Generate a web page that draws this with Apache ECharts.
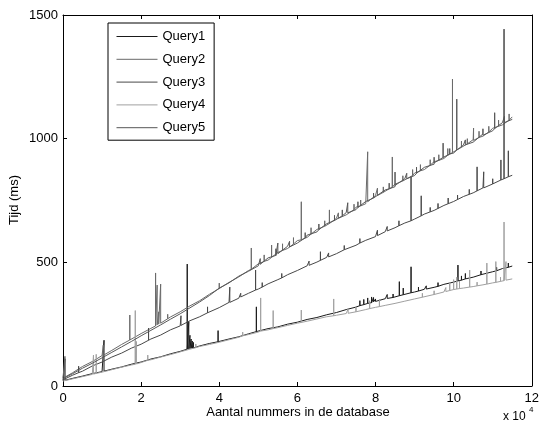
<!DOCTYPE html>
<html><head><meta charset="utf-8">
<script src="https://cdn.jsdelivr.net/npm/echarts@6/dist/echarts.min.js"></script>
<style>html,body{margin:0;padding:0;background:#fff}#c{width:542px;height:425px}</style>
</head><body><div id="c"></div>
<script>
// x values in units of 10^4 records
const xs = [0,0.25,0.5,0.75,1,1.25,1.5,1.75,2,2.25,2.5,2.75,3,3.25,3.5,3.75,4,4.25,4.5,4.75,5,5.25,5.5,5.75,6,6.25,6.5,6.75,7,7.25,7.5,7.75,8,8.25,8.5,8.75,9,9.25,9.5,9.75,10,10.25,10.5,10.75,11,11.25,11.5];
const seriesNames = ['Query1','Query2','Query3','Query4','Query5'];
const xTicks = [0,2,4,6,8,10,12];
const yTicks = [0,500,1000,1500];

const q1Base = [22,31,40,50,58,68,77,88,97,109,118,130,140,152,162,172,180,190,199,211,222,232,239,250,258,269,277,288,297,309,319,332,342,353,360,372,380,391,399,411,420,432,440,453,462,475,485];
const q2Base = [33,54,79,99,123,144,168,188,212,233,254,279,300,324,345,371,394,419,441,467,494,509,540,556,588,601,633,646,678,692,723,737,770,784,816,829,861,875,907,920,952,965,996,1010,1042,1056,1088];
const q3Base = [25,44,60,81,97,117,133,153,169,190,206,227,243,264,280,301,317,338,355,375,392,413,430,450,467,486,501,520,535,554,569,589,604,624,640,659,675,695,710,730,746,766,781,801,817,836,852];
const q4Base = [20,29,38,47,56,66,76,85,95,106,117,127,138,149,160,168,177,187,197,208,218,227,236,245,254,262,271,280,286,293,300,309,318,326,334,343,352,361,370,380,390,396,402,409,417,425,433];
const q5Base = [30,50,72,92,114,136,158,180,203,225,247,270,292,316,340,366,396,417,444,464,486,518,531,565,578,610,623,656,668,701,713,746,760,793,806,838,851,884,897,929,942,974,986,1019,1032,1065,1078];

// spikes: [x, foot, peak]
const q1Spikes = [[0.05,23,110],[1.05,60,185],[3.18,149,493],[3.22,150,260],[3.25,151,205],[3.28,152,190],[3.31,153,182],[3.34,154,176],[3.97,179,224],[4.95,220,320],
  [7.6,325,345],[7.7,329,350],[7.8,334,356],[7.9,337,360],[7.95,340,358],[8.0,342,352],[8.3,354,370],[8.45,358,372],[8.61,365,422],[8.71,369,396],[8.91,377,482],
  [9.1,384,400],[9.3,392,405],[9.6,403,418],[10.11,425,489],[10.2,428,445],[10.3,433,455],[10.7,450,465],[11.1,466,480],[11.4,480,497]];
const q2Spikes = [[0.05,36,120],[1.03,124,165],[1.71,186,287],[2.37,243,457],[2.41,247,408],[2.45,250,300],[2.5,254,412],[2.68,272,290],[4.0,394,416],[4.82,472,558],
  [5.15,504,530],[5.34,520,570],[5.62,548,575],[5.9,574,600],[6.1,591,745],[6.35,614,640],[6.7,646,668],[6.82,657,712],[7.05,678,700],[7.45,713,735],[7.62,728,752],
  [7.8,745,947],[8.05,770,800],[8.2,783,805],[8.43,805,926],[8.7,829,850],[8.95,851,875],[9.15,870,895],[9.4,893,915],[9.62,912,935],[9.85,933,960],[9.97,944,1241],
  [10.2,965,990],[10.35,979,1000],[10.51,993,1043],[10.65,1005,1030],[10.9,1027,1050],[11.15,1050,1075],[11.42,1075,1100]];
const q3Spikes = [[0.4,54,80],[2.19,185,234],[3.02,245,284],[3.7,296,320],[4.27,338,400],[4.55,360,375],[4.93,388,469],[5.1,400,418],[5.6,437,455],[6.3,488,505],
  [6.59,508,543],[6.8,522,538],[7.2,551,568],[7.6,578,596],[8.05,608,630],[8.3,627,645],[8.6,648,668],[8.91,668,846],[9.17,688,769],[9.4,704,722],[9.6,718,738],
  [9.86,737,760],[10.1,754,772],[10.4,775,795],[10.6,789,886],[10.77,801,866],[11.0,817,838],[11.21,833,914],[11.29,838,1443],[11.4,846,951]];
const q4Spikes = [[0.78,48,125],[0.85,51,128],[1.85,88,305],[1.88,89,180],[2.17,104,125],[3.4,155,170],[4.6,203,218],[5.06,222,356],[5.38,232,305],[6.1,257,307],
  [6.93,284,352],[7.3,294,312],[7.5,300,318],[7.85,313,345],[8.1,321,350],[9.2,359,375],[9.5,370,385],[9.8,382,398],[9.9,386,420],[10.0,390,430],[10.08,392,440],
  [10.15,394,425],[10.41,400,469],[10.6,405,420],[10.85,412,497],[11.08,419,503],[11.2,423,440],[11.29,426,663],[11.34,428,503]];
const q5Spikes = [[5.05,492,515],[5.45,528,555],[5.5,535,578],[5.8,562,585],[6.2,599,620],[6.55,632,655],[6.95,669,690],[7.15,688,712],[7.29,700,741],[7.55,722,745],
  [7.95,760,780],[8.35,797,820],[8.5,811,865],[8.8,838,860],[9.05,860,885],[9.5,902,925],[9.73,924,982],[9.9,938,960],[10.08,954,1160],[10.3,975,995],[10.75,1014,1040],
  [11.05,1041,1105],[11.3,1065,1090]];

const colors = ['#1a1a1a','#6a6a6a','#484848','#a0a0a0','#575757'];

function build(base, spikes){
  const pts = xs.map((x,i)=>[x, base[i]]);
  spikes.forEach(s=>{ pts.push([s[0],s[1]],[s[0],s[2]],[s[0],s[1]]); });
  return pts.map((p,i)=>[p[0],p[1],i]).sort((a,b)=>a[0]-b[0]||a[2]-b[2]).map(p=>[p[0],p[1]]);
}
const allData = [build(q1Base,q1Spikes),build(q2Base,q2Spikes),build(q3Base,q3Spikes),build(q4Base,q4Spikes),build(q5Base,q5Spikes)];

const FONT = 'Liberation Sans';
const chart = echarts.init(document.getElementById('c'), null, {renderer:'canvas'});
const axisCommon = {
  axisLine:{show:true,onZero:false,lineStyle:{color:'#000',width:1}},
  axisTick:{show:true,inside:true,length:4,lineStyle:{color:'#000'}},
  splitLine:{show:false}
};
chart.setOption({
  animation:false,
  backgroundColor:'#fff',
  grid:{left:63,right:8,top:15,bottom:39,containLabel:false},
  legend:{
    show:true, orient:'vertical', left:108, top:23,
    data:seriesNames,
    itemWidth:41, itemHeight:13, itemGap:9.8,
    padding:[7,9,6,8],
    borderColor:'#000', borderWidth:1, backgroundColor:'#fff',
    itemStyle:{color:'rgba(0,0,0,0)',borderColor:'rgba(0,0,0,0)',borderWidth:0},
    lineStyle:{width:1},
    textStyle:{fontFamily:FONT,fontSize:13,color:'#000'}
  },
  xAxis:[
    Object.assign({type:'value',min:0,max:12,interval:2,position:'bottom',
      axisLabel:{show:true,fontFamily:FONT,fontSize:13,color:'#000',margin:6,
        formatter:v=>xTicks.includes(v)?String(v):''}},axisCommon),
    Object.assign({type:'value',min:0,max:12,interval:2,position:'top',
      axisLabel:{show:false}},axisCommon)
  ],
  yAxis:[
    Object.assign({type:'value',min:0,max:1500,interval:500,position:'left',
      axisLabel:{show:true,fontFamily:FONT,fontSize:13,color:'#000',margin:5,
        formatter:v=>yTicks.includes(v)?String(v):''}},axisCommon),
    Object.assign({type:'value',min:0,max:1500,interval:500,position:'right',
      axisLabel:{show:false}},axisCommon)
  ],
  series: seriesNames.map((n,i)=>({
    name:n, type:'line', data:allData[i], symbol:'none', showSymbol:false,
    xAxisIndex:0, yAxisIndex:0,
    lineStyle:{color:colors[i],width:1}, itemStyle:{color:colors[i]},
    emphasis:{disabled:true}, z:2+i
  })),
  graphic:[
    {type:'text',x:298,y:406,style:{text:'Aantal nummers in de database',font:'13px "Liberation Sans"',fill:'#000',textAlign:'center'}},
    {type:'text',rotation:Math.PI/2,x:14,y:200,style:{text:'Tijd (ms)',font:'13px "Liberation Sans"',fill:'#000',textAlign:'center',textVerticalAlign:'middle'}},
    {type:'text',x:503,y:411,style:{text:'x 10',font:'12px "Liberation Sans"',fill:'#000'}},
    {type:'text',x:529,y:406,style:{text:'4',font:'8px "Liberation Sans"',fill:'#000'}}
  ]
});
</script></body></html>
